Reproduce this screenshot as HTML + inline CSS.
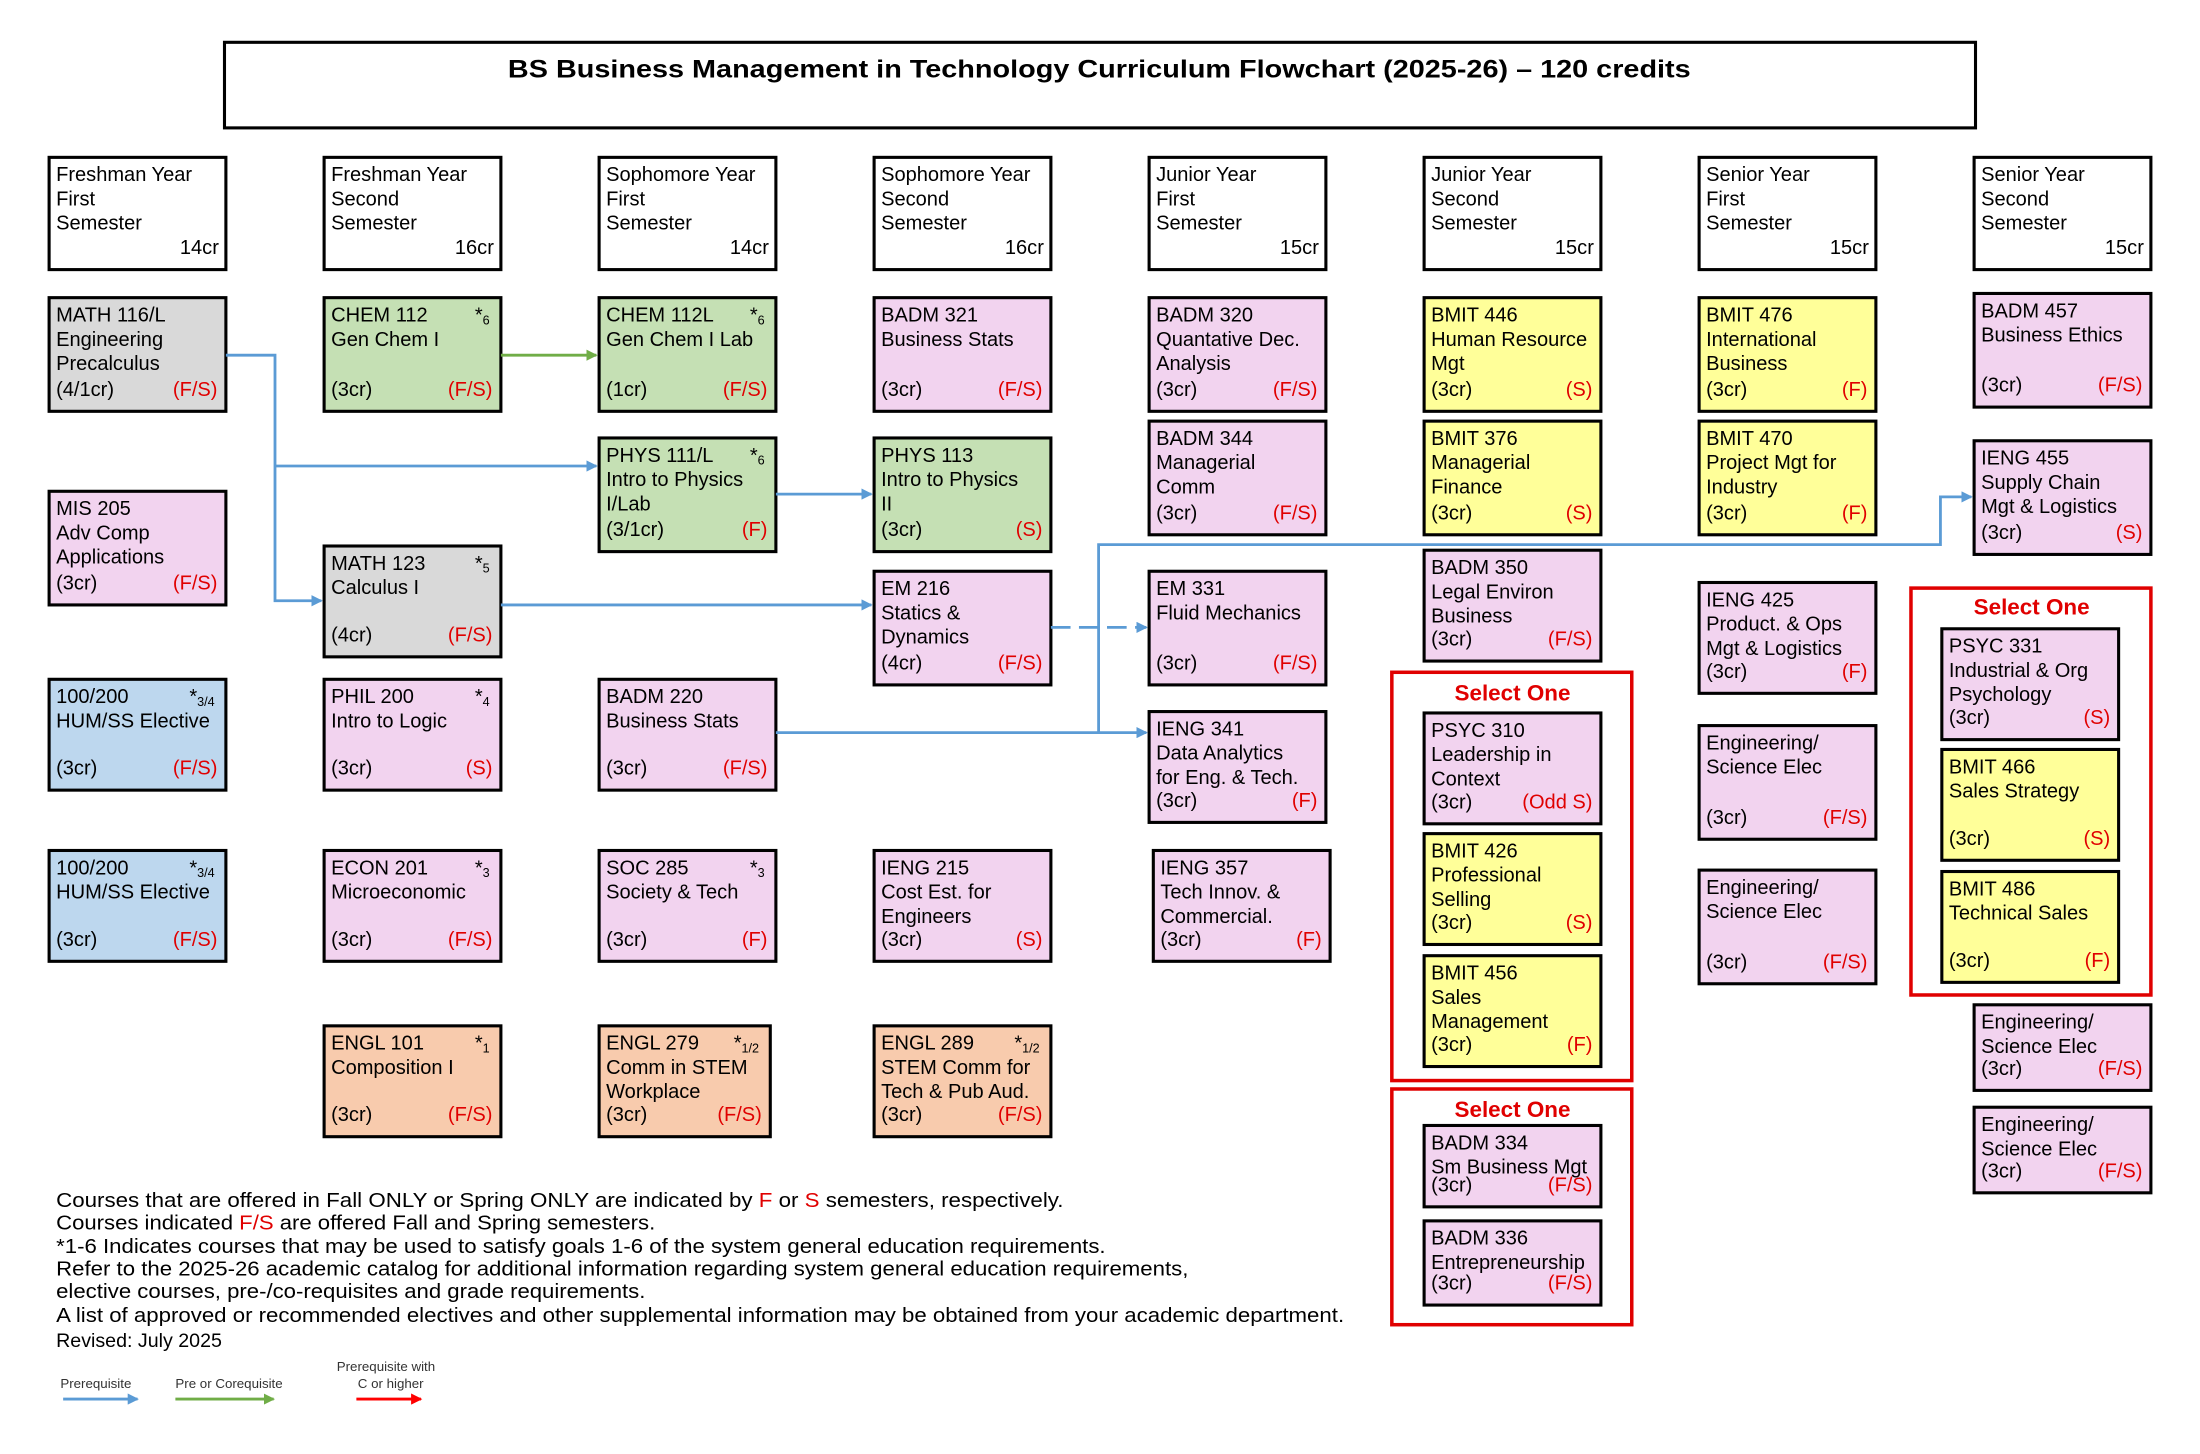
<!DOCTYPE html>
<html><head><meta charset="utf-8"><style>
html,body{margin:0;padding:0;background:#fff;overflow:hidden;}
svg{display:block;}
text{font-family:"Liberation Sans",sans-serif;font-size:14.3px;fill:#000;}
.r{fill:#e00000;}
.b{stroke:#000;stroke-width:2.2;}
</style></head><body>
<svg width="2200" height="1454" viewBox="0 0 1568 1036" xmlns="http://www.w3.org/2000/svg">
<defs>
<marker id="ab" markerWidth="8" markerHeight="8" refX="7" refY="4" orient="auto" markerUnits="userSpaceOnUse"><path d="M0,0 L8,4 L0,8z" fill="#5b9bd5"/></marker>
<marker id="ag" markerWidth="8" markerHeight="8" refX="7" refY="4" orient="auto" markerUnits="userSpaceOnUse"><path d="M0,0 L8,4 L0,8z" fill="#70ad47"/></marker>
<marker id="ar" markerWidth="8" markerHeight="8" refX="7" refY="4" orient="auto" markerUnits="userSpaceOnUse"><path d="M0,0 L8,4 L0,8z" fill="#ff0000"/></marker>
</defs>
<rect x="160" y="30" width="1248" height="61" fill="#fff" class="b"/>
<text x="362" y="55" textLength="843" lengthAdjust="spacingAndGlyphs" style="font-size:18px;font-weight:bold">BS Business Management in Technology Curriculum Flowchart (2025-26) – 120 credits</text>

<g id="hdr"></g>
<g id="boxes"></g>

<rect x="992" y="479" width="171" height="291" fill="none" stroke="#e00000" stroke-width="2.5"/>
<text x="1078" y="499" text-anchor="middle" class="r" style="font-size:16px;font-weight:bold">Select One</text>
<rect x="992" y="776" width="171" height="168" fill="none" stroke="#e00000" stroke-width="2.5"/>
<text x="1078" y="796" text-anchor="middle" class="r" style="font-size:16px;font-weight:bold">Select One</text>
<rect x="1362" y="419" width="171" height="290" fill="none" stroke="#e00000" stroke-width="2.5"/>
<text x="1448" y="438" text-anchor="middle" class="r" style="font-size:16px;font-weight:bold">Select One</text>

<g fill="none" stroke="#5b9bd5" stroke-width="2">
<path d="M161,253 H196 V428 H229" marker-end="url(#ab)"/>
<path d="M196,332 H425" marker-end="url(#ab)"/>
<path d="M553,352 H621" marker-end="url(#ab)"/>
<path d="M357,431 H621" marker-end="url(#ab)"/>
<path d="M749,447 H817" stroke-dasharray="14,6" marker-end="url(#ab)"/>
<path d="M553,522 H817" marker-end="url(#ab)"/>
<path d="M783,522 V388 H1383 V354 H1405" marker-end="url(#ab)"/>
</g>
<path d="M357,253 H425" stroke="#70ad47" stroke-width="2" fill="none" marker-end="url(#ag)"/>

<g>
<text x="40" y="860" textLength="718" lengthAdjust="spacingAndGlyphs">Courses that are offered in Fall ONLY or Spring ONLY are indicated by <tspan class="r">F</tspan> or <tspan class="r">S</tspan> semesters, respectively.</text>
<text x="40" y="876" textLength="427" lengthAdjust="spacingAndGlyphs">Courses indicated <tspan class="r">F/S</tspan> are offered Fall and Spring semesters.</text>
<text x="40" y="893" textLength="748" lengthAdjust="spacingAndGlyphs">*1-6 Indicates courses that may be used to satisfy goals 1-6 of the system general education requirements.</text>
<text x="40" y="909" textLength="807" lengthAdjust="spacingAndGlyphs">Refer to the 2025-26 academic catalog for additional information regarding system general education requirements,</text>
<text x="40" y="925" textLength="420" lengthAdjust="spacingAndGlyphs">elective courses, pre-/co-requisites and grade requirements.</text>
<text x="40" y="942" textLength="918" lengthAdjust="spacingAndGlyphs">A list of approved or recommended electives and other supplemental information may be obtained from your academic department.</text>
<text x="40" y="960" style="font-size:14px">Revised: July 2025</text>
</g>
<g>
<text x="43" y="989" style="font-size:9.5px;fill:#333">Prerequisite</text>
<text x="125" y="989" style="font-size:9.5px;fill:#333">Pre or Corequisite</text>
<text x="240" y="977" style="font-size:9.5px;fill:#333">Prerequisite with</text>
<text x="255" y="989" style="font-size:9.5px;fill:#333">C or higher</text>
</g>
<path d="M45,997 H98" stroke="#5b9bd5" stroke-width="2" marker-end="url(#ab)"/>
<path d="M125,997 H195" stroke="#70ad47" stroke-width="2" marker-end="url(#ag)"/>
<path d="M254,997 H300" stroke="#ff0000" stroke-width="2" marker-end="url(#ar)"/>

<script>
const NS="http://www.w3.org/2000/svg";
function el(t,a,p,txt){const e=document.createElementNS(NS,t);for(const k in a)e.setAttribute(k,a[k]);if(txt!==undefined)e.textContent=txt;p.appendChild(e);return e;}
const H=document.getElementById('hdr');
const hx=[35,231,427,623,819,1015,1211,1407];
const hd=[["Freshman Year","First","Semester","14cr"],["Freshman Year","Second","Semester","16cr"],["Sophomore Year","First","Semester","14cr"],["Sophomore Year","Second","Semester","16cr"],["Junior Year","First","Semester","15cr"],["Junior Year","Second","Semester","15cr"],["Senior Year","First","Semester","15cr"],["Senior Year","Second","Semester","15cr"]];
hx.forEach((x,i)=>{el('rect',{x:x,y:112,width:126,height:80,fill:'#fff',class:'b'},H);
for(let j=0;j<3;j++)el('text',{x:x+5,y:129+j*17.3},H,hd[i][j]);
el('text',{x:x+121,y:181,'text-anchor':'end'},H,hd[i][3]);});
const C={g:'#d9d9d9',gr:'#c5e0b4',p:'#f2d3ef',b:'#bdd7ee',y:'#ffff99',o:'#f8cbad'};
const B=document.getElementById('boxes');
function box(x,y,w,h,c,lines,term,star){
 el('rect',{x:x,y:y,width:w,height:h,fill:C[c],class:'b'},B);
 const n=lines.length;
 lines.forEach((l,j)=>{let yy=y+17+j*17.3; if(j==n-1) yy=y+h-11; if(l)el('text',{x:x+5,y:yy},B,l);});
 el('text',{x:x+w-6,y:y+h-11,'text-anchor':'end',class:'r'},B,'('+term+')');
 if(star){const t=el('text',{x:x+w-8,y:y+17,'text-anchor':'end'},B,'*');el('tspan',{style:'font-size:9px',dy:'2'},t,star);}
}
box(35,212,126,81,'g',["MATH 116/L","Engineering","Precalculus","(4/1cr)"],"F/S");
box(35,350,126,81,'p',["MIS 205","Adv Comp","Applications","(3cr)"],"F/S");
box(35,484,126,79,'b',["100/200","HUM/SS Elective","","(3cr)"],"F/S","3/4");
box(35,606,126,79,'b',["100/200","HUM/SS Elective","","(3cr)"],"F/S","3/4");
box(231,212,126,81,'gr',["CHEM 112","Gen Chem I","","(3cr)"],"F/S","6");
box(231,389,126,79,'g',["MATH 123","Calculus I","","(4cr)"],"F/S","5");
box(231,484,126,79,'p',["PHIL 200","Intro to Logic","","(3cr)"],"S","4");
box(231,606,126,79,'p',["ECON 201","Microeconomic","","(3cr)"],"F/S","3");
box(231,731,126,79,'o',["ENGL 101","Composition I","","(3cr)"],"F/S","1");
box(427,212,126,81,'gr',["CHEM 112L","Gen Chem I Lab","","(1cr)"],"F/S","6");
box(427,312,126,81,'gr',["PHYS 111/L","Intro to Physics","I/Lab","(3/1cr)"],"F","6");
box(427,484,126,79,'p',["BADM 220","Business Stats","","(3cr)"],"F/S");
box(427,606,126,79,'p',["SOC 285","Society & Tech","","(3cr)"],"F","3");
box(427,731,122,79,'o',["ENGL 279","Comm in STEM","Workplace","(3cr)"],"F/S","1/2");
box(623,212,126,81,'p',["BADM 321","Business Stats","","(3cr)"],"F/S");
box(623,312,126,81,'gr',["PHYS 113","Intro to Physics","II","(3cr)"],"S");
box(623,407,126,81,'p',["EM 216","Statics &","Dynamics","(4cr)"],"F/S");
box(623,606,126,79,'p',["IENG 215","Cost Est. for","Engineers","(3cr)"],"S");
box(623,731,126,79,'o',["ENGL 289","STEM Comm for","Tech & Pub Aud.","(3cr)"],"F/S","1/2");
box(819,212,126,81,'p',["BADM 320","Quantative Dec.","Analysis","(3cr)"],"F/S");
box(819,300,126,81,'p',["BADM 344","Managerial","Comm","(3cr)"],"F/S");
box(819,407,126,81,'p',["EM 331","Fluid Mechanics","","(3cr)"],"F/S");
box(819,507,126,79,'p',["IENG 341","Data Analytics","for Eng. & Tech.","(3cr)"],"F");
box(822,606,126,79,'p',["IENG 357","Tech Innov. &","Commercial.","(3cr)"],"F");
box(1015,212,126,81,'y',["BMIT 446","Human Resource","Mgt","(3cr)"],"S");
box(1015,300,126,81,'y',["BMIT 376","Managerial","Finance","(3cr)"],"S");
box(1015,392,126,79,'p',["BADM 350","Legal Environ","Business","(3cr)"],"F/S");
box(1015,508,126,79,'p',["PSYC 310","Leadership in","Context","(3cr)"],"Odd S");
box(1015,594,126,79,'y',["BMIT 426","Professional","Selling","(3cr)"],"S");
box(1015,681,126,79,'y',["BMIT 456","Sales","Management","(3cr)"],"F");
box(1015,802,126,58,'p',["BADM 334","Sm Business Mgt","(3cr)"],"F/S");
box(1015,870,126,60,'p',["BADM 336","Entrepreneurship","(3cr)"],"F/S");
box(1211,212,126,81,'y',["BMIT 476","International","Business","(3cr)"],"F");
box(1211,300,126,81,'y',["BMIT 470","Project Mgt for","Industry","(3cr)"],"F");
box(1211,415,126,79,'p',["IENG 425","Product. & Ops","Mgt & Logistics","(3cr)"],"F");
box(1211,517,126,81,'p',["Engineering/","Science Elec","","(3cr)"],"F/S");
box(1211,620,126,81,'p',["Engineering/","Science Elec","","(3cr)"],"F/S");
box(1407,209,126,81,'p',["BADM 457","Business Ethics","","(3cr)"],"F/S");
box(1407,314,126,81,'p',["IENG 455","Supply Chain","Mgt & Logistics","(3cr)"],"S");
box(1384,448,126,79,'p',["PSYC 331","Industrial & Org","Psychology","(3cr)"],"S");
box(1384,534,126,79,'y',["BMIT 466","Sales Strategy","","(3cr)"],"S");
box(1384,621,126,79,'y',["BMIT 486","Technical Sales","","(3cr)"],"F");
box(1407,716,126,61,'p',["Engineering/","Science Elec","(3cr)"],"F/S");
box(1407,789,126,61,'p',["Engineering/","Science Elec","(3cr)"],"F/S");
</script>
</svg>
</body></html>
